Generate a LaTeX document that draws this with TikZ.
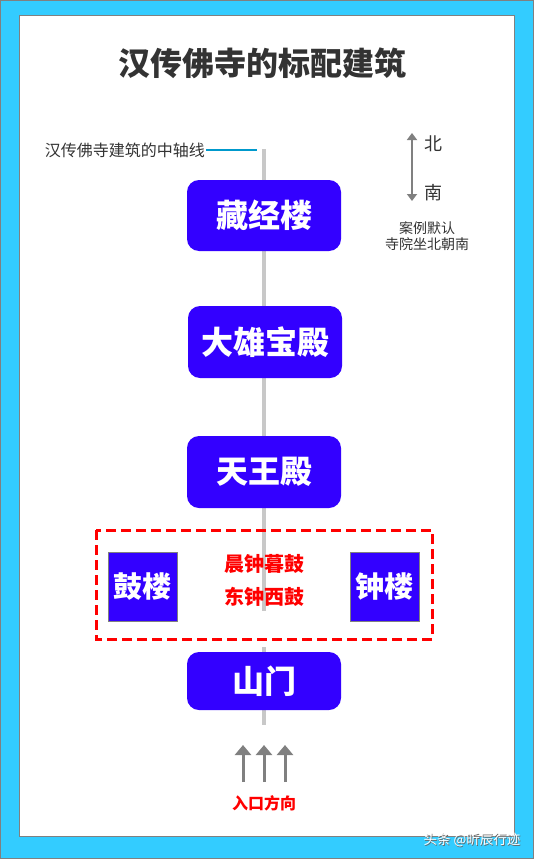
\documentclass[tikz,border=0pt]{standalone}
\usepackage{fontspec}
\newfontfamily\cjk{Noto Sans CJK SC}
\usetikzlibrary{arrows.meta}
\definecolor{frame}{HTML}{33CCFF}
\definecolor{hall}{HTML}{3300FF}
\definecolor{axis}{HTML}{C8C8C8}
\definecolor{ink}{HTML}{333333}
\definecolor{leader}{HTML}{0099CC}
\definecolor{arrowgray}{HTML}{808080}
\tikzset{
  hallbox/.style={fill=hall, rounded corners=12pt, minimum width=154pt, text=white,
    font=\cjk\bfseries\fontsize{32}{32}\selectfont, inner sep=0pt},
  towerbox/.style={fill=hall, draw=arrowgray, line width=0.8pt, minimum width=69pt, minimum height=69pt,
    text=white, font=\cjk\bfseries\fontsize{29}{29}\selectfont, inner sep=0pt},
  axisline/.style={draw=axis, line width=4pt},
  entry/.style={draw=arrowgray, line width=3pt, -{Triangle[length=10pt,width=16pt]}},
}
\begin{document}
\begin{tikzpicture}[x=1pt,y=-1pt]
% page frame
\fill[frame] (0,0) rectangle (534,859);
\draw[arrowgray, line width=1pt] (0.5,0.5) rectangle (533.5,858.5);
\fill[white] (19,16) rectangle (514,836);
\draw[arrowgray, line width=1pt] (19,16) rectangle (514,836);
\useasboundingbox (0,0) rectangle (534,859);

% title
\node[text=ink, font=\cjk\bfseries\fontsize{32}{32}\selectfont] (title) at (262,63) {汉传佛寺的标配建筑};

% central axis
\coordinate (axtop) at (264,149);
\coordinate (axmid1) at (264,611);
\coordinate (axmid2) at (264,647);
\coordinate (axbot) at (264,725);
\draw[axisline] (axtop) -- (axmid1);
\draw[axisline] (axmid2) -- (axbot);

% axis label with leader
\node[text=ink, font=\cjk\fontsize{16}{16}\selectfont, anchor=east, inner sep=1pt] (axlabel) at (206,150) {汉传佛寺建筑的中轴线};
\coordinate (leadend) at (257,150);
\draw[leader, line width=1.5pt] (axlabel.east) -- (leadend);

% halls along the axis
\node[hallbox, minimum height=71pt] (cangjing) at (264,215.5) {藏经楼};
\node[hallbox, minimum height=72pt] (daxiong) at (265,342) {大雄宝殿};
\node[hallbox, minimum height=72pt] (tianwang) at (264,472) {天王殿};
\node[hallbox, minimum height=58pt] (shanmen) at (264,681) {山门};

% bell and drum towers
\draw[red, line width=3pt, dash pattern=on 10pt off 5pt] (96,530) rectangle (432,639);
\node[towerbox] (gulou) at (142.5,586.5) {鼓楼};
\node[towerbox] (zhonglou) at (384.5,586.5) {钟楼};
\node[text=red, font=\cjk\bfseries\fontsize{20}{20}\selectfont] (motto1) at (264,564) {晨钟暮鼓};
\node[text=red, font=\cjk\bfseries\fontsize{20}{20}\selectfont] (motto2) at (264,597) {东钟西鼓};

% entrance arrows
\foreach \x/\n in {243/a,264/b,285/c}{
  \coordinate (in\n) at (\x,782);
  \coordinate (out\n) at (\x,745);
  \draw[entry] (in\n) -- (out\n);
}
\node[text=red, font=\cjk\bfseries\fontsize{16}{16}\selectfont] (entrance) at (264,803) {入口方向};

% orientation
\coordinate (north) at (412,133);
\coordinate (south) at (412,201);
\draw[arrowgray, line width=2pt, {Triangle[length=7pt,width=10pt]}-{Triangle[length=7pt,width=10pt]}] (north) -- (south);
\node[text=ink, font=\cjk\fontsize{18}{18}\selectfont] (bei) at (433,144) {北};
\node[text=ink, font=\cjk\fontsize{18}{18}\selectfont] (nan) at (433,193) {南};
\node[text=ink, font=\cjk\fontsize{14}{16}\selectfont, align=center] (note) at (427,236) {案例默认\\寺院坐北朝南};

% credit
\node[text=black!60, font=\cjk\fontsize{13.5}{13.5}\selectfont] at (472.7,840.7) {头条 @昕辰行迹};
\node[text=white, font=\cjk\fontsize{13.5}{13.5}\selectfont] (credit) at (472,840) {头条 @昕辰行迹};
\end{tikzpicture}
\end{document}
